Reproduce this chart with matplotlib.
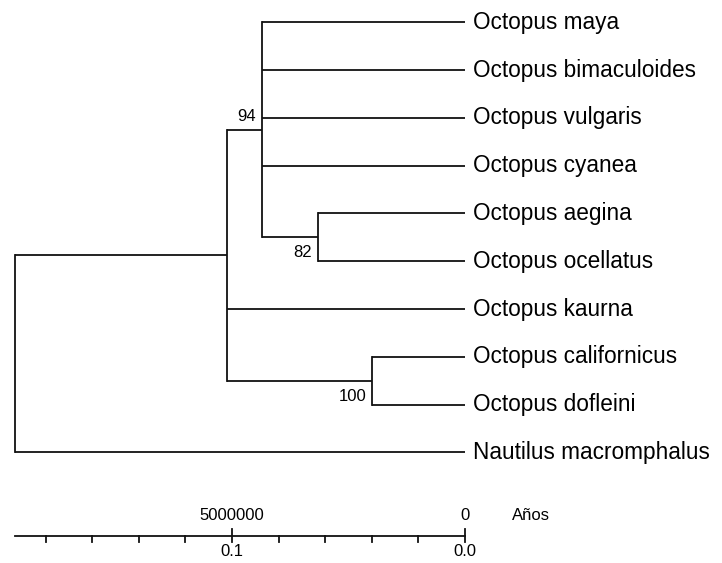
import matplotlib
matplotlib.use('Agg')
import matplotlib.pyplot as plt

plt.rcParams['font.family'] = ['Liberation Sans', 'DejaVu Sans']

# tips, top to bottom
tips = ['Octopus maya', 'Octopus bimaculoides', 'Octopus vulgaris', 'Octopus cyanea',
        'Octopus aegina', 'Octopus ocellatus', 'Octopus kaurna', 'Octopus californicus',
        'Octopus dofleini', 'Nautilus macromphalus']

# internal nodes (age measured from the tips, substitutions)
node_names = ['root', 'octopus', 'n94', 'n82', 'n100']
node_ages = [0.1931, 0.1021, 0.0870, 0.0632, 0.0398]
node_children = [
    ['octopus', 'Nautilus macromphalus'],
    ['n94', 'Octopus kaurna', 'n100'],
    ['Octopus maya', 'Octopus bimaculoides', 'Octopus vulgaris', 'Octopus cyanea', 'n82'],
    ['Octopus aegina', 'Octopus ocellatus'],
    ['Octopus californicus', 'Octopus dofleini'],
]
bootstrap = [None, None, 94, 82, 100]
label_above = [False, False, True, False, False]

# scale bar
scale_ticks = [0.0, 0.02, 0.04, 0.06, 0.08, 0.1, 0.12, 0.14, 0.16, 0.18]
scale_major = [0.0, 0.1]
scale_labels = ['0.0', '0.1']
year_labels = ['0', '5000000']

age = {t: 0.0 for t in tips}
ypos = {t: i for i, t in enumerate(tips)}
for name, a in zip(node_names, node_ages):
    age[name] = a
kids = dict(zip(node_names, node_children))


def get_y(n):
    if n in ypos:
        return ypos[n]
    ch = kids[n]
    y = (get_y(ch[0]) + get_y(ch[-1])) / 2
    ypos[n] = y
    return y


get_y('root')

fig = plt.figure(figsize=(7.22, 5.63), dpi=100)
ax = fig.add_axes([0, 0, 1, 1])
ax.set_xlim(465 / 2330, (465 - 722) / 2330)
ax.set_ylim((563 - 22.3) / 47.8, -22.3 / 47.8)
ax.axis('off')

lc = '#111111'
lw = 1.3

for name in node_names:
    ch = kids[name]
    a = age[name]
    ax.plot([a, a], [ypos[ch[0]], ypos[ch[-1]]], color=lc, lw=lw, solid_capstyle='projecting')
    for c in ch:
        ax.plot([a, age[c]], [ypos[c], ypos[c]], color=lc, lw=lw, solid_capstyle='butt')

for t in tips:
    ax.annotate(t, (age[t], ypos[t]), xytext=(5.5, 0), textcoords='offset points',
                ha='left', va='center', fontsize=16.3, color='black')

for name, b, up in zip(node_names, bootstrap, label_above):
    if b is None:
        continue
    dy = 9.5 if up else -11
    ax.annotate(str(b), (age[name], ypos[name]), xytext=(-4.5, dy), textcoords='offset points',
                ha='right', va='center', fontsize=12, color='black')

# scale bar
bar_y = (536 - 22.3) / 47.8
row = 1 / 47.8
ax.plot([age['root'], 0], [bar_y, bar_y], color=lc, lw=lw)
for t in scale_ticks:
    if t in scale_major:
        ax.plot([t, t], [bar_y - 7 * row, bar_y + 6 * row], color=lc, lw=lw)
    else:
        ax.plot([t, t], [bar_y, bar_y + 6 * row], color=lc, lw=lw)
for t, s, yl in zip(scale_major, scale_labels, year_labels):
    ax.text(t, bar_y + 16 * row, s, ha='center', va='center', fontsize=12)
    ax.text(t, bar_y - 20 * row, yl, ha='center', va='center', fontsize=12)
ax.text(-47 / 2330, bar_y - 20 * row, 'Años', ha='left', va='center', fontsize=12)

fig.savefig('out.png', dpi=100)
